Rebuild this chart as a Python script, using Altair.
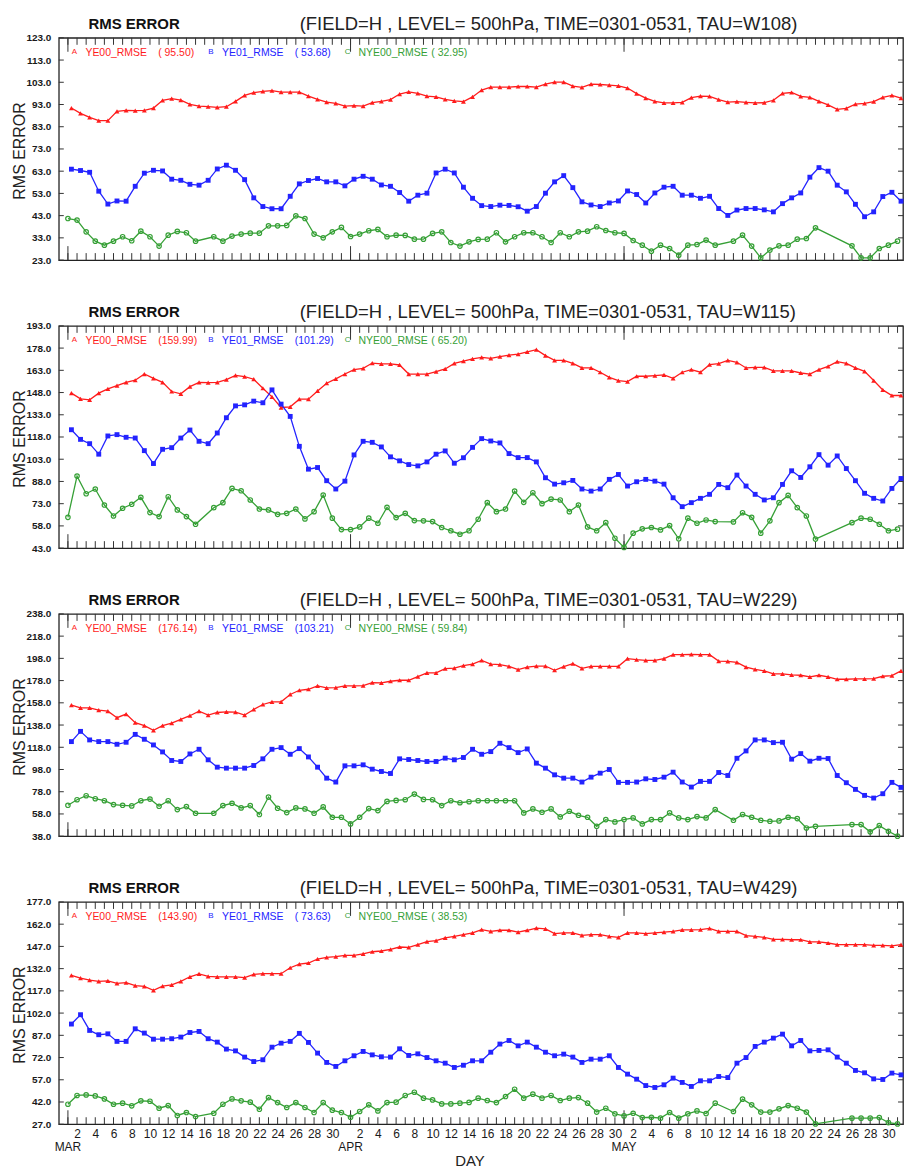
import altair as alt
import pandas as pd

# ---- daily RMS error, 1 Mar .. 31 May (day index 1..92); None = no forecast that day ----
DAYS = list(range(1, 93))

# TAU = W108
p1_ye00 = [91.4, 89.0, 87.2, 85.7, 85.7, 89.9, 90.4, 90.2, 90.4, 91.4,
           94.9, 95.6, 95.0, 93.1, 92.3, 92.0, 91.7, 92.0, 94.4, 97.1,
           98.3, 98.9, 99.2, 98.6, 98.6, 98.6, 96.8, 95.3, 94.1, 93.5,
           92.3, 92.5, 92.3, 93.8, 94.4, 95.2, 97.7, 98.7, 98.0, 96.8,
           96.4, 95.3, 94.6, 94.3, 96.4, 99.5, 100.8, 100.8, 100.8, 101.1,
           101.1, 100.8, 102.2, 103.1, 103.1, 101.3, 100.7, 102.2, 102.0, 101.7,
           101.4, 100.4, 97.9, 95.9, 94.4, 93.7, 93.7, 94.0, 96.1, 96.8,
           96.7, 95.2, 94.1, 94.3, 94.0, 93.7, 93.8, 94.9, 98.0, 98.4,
           96.7, 96.2, 94.4, 92.8, 90.8, 91.3, 93.2, 93.5, 94.3, 96.2,
           97.1, 95.9]
p1_ye01 = [63.9, 63.3, 62.5, 54.0, 48.2, 49.6, 49.5, 56.2, 62.1, 63.4,
           63.1, 59.4, 58.9, 57.1, 56.7, 58.9, 64.0, 65.7, 63.4, 59.2,
           51.0, 47.1, 46.1, 46.1, 51.7, 57.3, 58.8, 59.7, 58.2, 58.2,
           56.4, 59.4, 60.7, 59.4, 56.8, 56.2, 53.4, 49.5, 52.2, 53.1,
           62.2, 63.9, 62.2, 55.8, 50.8, 47.5, 47.1, 47.7, 47.6, 47.0,
           45.0, 47.1, 53.1, 58.2, 61.0, 55.6, 49.2, 47.8, 47.1, 48.7,
           49.6, 54.1, 52.5, 48.7, 53.2, 55.8, 56.2, 52.2, 52.2, 50.8,
           51.7, 46.2, 43.1, 45.5, 46.2, 46.2, 45.6, 44.7, 48.4, 51.0,
           53.2, 60.3, 64.6, 63.0, 56.7, 53.7, 48.1, 42.5, 44.7, 51.6,
           53.5, 49.5]
p1_nye00 = [41.7, 41.0, 35.7, 31.5, 29.7, 31.5, 33.5, 31.7, 36.0, 33.5,
            29.3, 34.2, 35.9, 35.3, 31.5, None, 33.5, 31.5, 33.8, 34.7,
            35.1, 35.1, 38.4, 38.4, 38.6, 42.9, 41.7, 34.7, 33.0, 35.7,
            37.7, 33.6, 34.7, 36.2, 36.8, 33.5, 34.2, 34.1, 32.4, 32.4,
            35.0, 35.7, 30.9, 29.3, 31.2, 32.3, 32.4, 35.3, 31.2, 33.5,
            35.3, 35.3, 33.5, 30.9, 35.3, 33.5, 35.7, 36.0, 38.0, 36.3,
            35.3, 35.0, 31.8, 29.7, 27.0, 29.7, 28.2, 25.2, 29.7, 30.0,
            32.0, 29.7, None, 31.5, 34.2, 29.3, 24.0, 27.5, 29.4, 29.7,
            32.4, 32.7, 37.5, None, None, None, 29.4, 24.0, 24.0, 28.2,
            29.7, 31.5]

# TAU = W115
p2_ye00 = [147.6, 143.7, 143.1, 147.6, 150.5, 152.7, 154.9, 156.3, 160.5, 157.6,
           154.9, 148.7, 147.1, 152.0, 154.9, 154.7, 154.9, 156.7, 159.6, 158.7,
           157.0, 150.9, 145.1, 137.9, 138.4, 143.5, 143.5, 149.1, 154.3, 157.2,
           160.5, 163.5, 164.3, 167.9, 167.3, 167.3, 166.6, 160.5, 160.5, 160.5,
           162.1, 163.9, 167.7, 169.2, 170.7, 171.7, 171.1, 172.2, 173.3, 174.0,
           175.5, 176.9, 172.9, 169.7, 169.7, 167.7, 164.6, 164.6, 161.7, 158.3,
           156.1, 155.4, 159.0, 159.0, 159.4, 159.9, 157.6, 161.7, 163.5, 161.7,
           166.8, 167.5, 169.7, 168.4, 164.6, 165.0, 165.0, 162.6, 162.6, 162.6,
           161.2, 160.5, 163.5, 165.7, 168.8, 167.7, 164.6, 162.3, 156.1, 149.8,
           146.0, 146.0]
p2_ye01 = [122.9, 116.4, 113.5, 106.4, 118.7, 119.6, 117.8, 117.3, 108.8, 100.1,
           109.7, 110.8, 117.3, 122.7, 115.1, 113.5, 120.7, 131.0, 139.0, 139.7,
           142.2, 141.1, 149.8, 140.2, 131.9, 111.7, 96.3, 97.4, 88.5, 82.9,
           88.2, 105.9, 115.1, 114.4, 111.3, 104.6, 101.9, 99.4, 98.5, 101.2,
           106.4, 108.6, 100.3, 104.0, 111.0, 116.9, 115.3, 114.0, 106.8, 104.1,
           104.1, 101.2, 90.5, 86.2, 87.1, 88.7, 82.9, 81.5, 82.9, 89.4,
           92.7, 84.9, 87.8, 89.4, 88.2, 86.2, 77.0, 71.0, 73.7, 76.6,
           79.3, 86.0, 83.8, 92.3, 84.9, 79.3, 75.5, 77.0, 86.0, 95.2,
           90.7, 97.9, 106.1, 99.0, 105.2, 96.7, 88.5, 80.0, 76.6, 74.8,
           83.3, 90.0]
p2_nye00 = [63.8, 91.6, 79.7, 82.9, 72.1, 64.7, 69.9, 72.6, 77.3, 67.0,
            64.3, 77.7, 68.8, 64.3, 59.1, None, 70.3, 73.7, 83.3, 81.7,
            75.5, 69.4, 68.8, 65.8, 66.5, 69.4, 62.7, 67.6, 78.8, 63.2,
            55.5, 55.5, 57.3, 63.2, 59.8, 70.5, 63.6, 66.5, 61.6, 61.4,
            60.9, 56.9, 54.7, 52.4, 54.7, 62.5, 73.7, 67.6, 69.4, 81.5,
            73.9, 80.4, 73.0, 76.1, 75.5, 67.6, 72.1, 57.3, 54.7, 60.2,
            49.7, 43.5, 53.1, 56.0, 56.9, 55.3, 58.2, 49.3, 63.2, 59.8,
            62.0, 60.9, None, 60.7, 66.9, 63.8, 53.1, 61.4, 73.7, 78.6,
            70.3, 64.7, 49.1, None, None, None, 60.2, 63.2, 62.5, 59.1,
            54.7, 55.8]

# TAU = W229
p3_ye00 = [155.9, 153.5, 153.5, 151.4, 150.5, 144.6, 147.9, 140.1, 137.4, 133.2,
           137.4, 139.8, 143.1, 146.4, 150.5, 147.0, 149.3, 149.9, 149.6, 147.0,
           152.0, 156.5, 158.9, 158.9, 165.5, 169.3, 170.2, 173.2, 171.4, 171.7,
           173.2, 173.2, 173.5, 176.2, 175.9, 177.4, 178.3, 178.3, 181.6, 184.9,
           184.9, 188.7, 189.3, 191.4, 192.9, 196.2, 192.9, 192.3, 190.8, 187.9,
           190.2, 191.1, 191.1, 187.3, 190.5, 193.2, 189.0, 190.8, 190.8, 190.8,
           190.8, 197.7, 196.8, 196.2, 196.2, 197.7, 201.3, 201.3, 201.6, 201.3,
           201.3, 195.6, 195.3, 194.4, 190.2, 188.1, 186.7, 184.0, 184.0, 183.1,
           182.8, 181.3, 182.8, 181.3, 179.2, 179.2, 179.5, 179.5, 179.8, 181.9,
           182.5, 186.7]
p3_ye01 = [123.1, 132.3, 124.6, 123.1, 123.1, 120.7, 122.5, 129.6, 125.2, 120.1,
           113.8, 106.1, 105.2, 112.0, 116.2, 106.7, 100.1, 99.2, 99.2, 99.2,
           101.6, 107.6, 116.2, 117.7, 111.7, 116.8, 109.3, 100.1, 90.2, 86.7,
           101.3, 101.3, 102.2, 98.3, 96.2, 94.4, 107.6, 107.0, 106.1, 105.2,
           105.2, 108.2, 106.7, 108.8, 116.2, 111.7, 114.1, 121.6, 117.7, 113.2,
           116.5, 103.7, 99.2, 93.2, 90.2, 90.2, 86.7, 91.1, 94.7, 98.0,
           86.4, 86.4, 86.7, 89.6, 89.0, 91.1, 95.6, 86.7, 82.2, 87.3,
           87.3, 95.3, 92.6, 108.1, 114.7, 124.6, 124.6, 122.2, 122.5, 107.3,
           112.3, 105.5, 108.1, 107.9, 92.6, 86.1, 80.1, 74.7, 72.3, 76.2,
           86.4, 81.9]
p3_nye00 = [65.8, 70.8, 74.4, 71.7, 69.9, 66.4, 65.8, 65.2, 69.9, 71.4,
            64.9, 69.9, 61.9, 64.6, 58.6, None, 58.6, 65.5, 67.6, 63.4,
            65.5, 57.5, 73.2, 63.1, 59.2, 63.4, 62.5, 58.6, 64.3, 55.0,
            55.0, 49.0, 55.0, 62.8, 61.0, 69.3, 70.2, 70.8, 75.9, 71.1,
            70.8, 65.5, 69.9, 68.1, 69.0, 69.9, 69.9, 69.9, 69.9, 69.9,
            58.9, 62.5, 59.5, 62.5, 55.3, 60.4, 56.8, 55.0, 46.9, 52.9,
            50.8, 52.9, 54.4, 49.0, 52.9, 52.9, 58.9, 54.4, 52.9, 55.6,
            54.4, 61.9, None, 52.3, 57.5, 55.0, 52.3, 51.4, 51.7, 55.0,
            53.8, 45.4, 46.9, None, None, None, 48.4, 48.4, 41.9, 47.5,
            42.4, 38.0]

# TAU = W429
p4_ye00 = [127.5, 125.6, 124.3, 123.4, 123.8, 122.0, 122.5, 120.5, 120.0, 117.4,
           120.2, 121.1, 123.4, 126.5, 128.4, 126.8, 126.5, 126.5, 126.5, 125.9,
           128.1, 128.6, 128.6, 128.6, 132.6, 135.1, 135.8, 138.5, 139.6, 140.1,
           141.0, 141.0, 141.9, 143.4, 143.9, 145.0, 146.6, 146.4, 148.2, 150.2,
           150.9, 152.7, 153.8, 154.9, 156.1, 158.3, 157.2, 157.9, 157.9, 156.7,
           157.9, 159.4, 158.8, 155.6, 156.1, 156.1, 154.5, 154.9, 154.9, 153.8,
           153.1, 156.1, 156.1, 155.6, 156.1, 156.7, 157.2, 158.1, 158.1, 158.3,
           159.2, 157.2, 157.2, 157.2, 154.3, 153.8, 153.1, 151.8, 151.8, 151.5,
           151.5, 150.0, 150.0, 149.3, 148.2, 148.2, 148.2, 148.2, 147.7, 147.7,
           147.3, 148.2]
p4_ye01 = [94.6, 100.9, 90.3, 87.4, 88.0, 82.9, 82.9, 91.4, 88.5, 84.4,
           84.4, 84.7, 85.8, 88.9, 89.6, 84.7, 82.4, 77.7, 76.5, 72.3,
           69.3, 70.5, 79.0, 81.7, 82.9, 88.3, 82.2, 75.0, 68.7, 66.0,
           69.8, 73.2, 76.1, 73.8, 72.5, 72.3, 77.9, 73.4, 74.5, 72.0,
           69.8, 68.2, 65.3, 66.8, 69.8, 69.8, 75.6, 81.1, 83.5, 79.9,
           82.4, 79.0, 75.6, 73.2, 74.3, 72.3, 68.7, 70.9, 70.9, 73.2,
           65.3, 60.8, 57.4, 53.1, 51.8, 53.6, 58.1, 55.2, 52.5, 56.3,
           56.3, 59.2, 58.5, 68.2, 72.0, 79.5, 82.4, 85.1, 87.8, 79.9,
           83.5, 76.5, 76.8, 77.2, 72.3, 68.2, 63.3, 61.7, 57.6, 57.2,
           61.5, 60.3]
p4_nye00 = [40.5, 46.4, 46.8, 46.1, 44.1, 40.5, 41.2, 39.4, 42.8, 42.5,
            37.8, 39.6, 32.9, 34.9, 32.2, None, 34.4, 40.5, 44.1, 42.8,
            41.9, 37.1, 45.0, 41.6, 38.3, 41.6, 38.3, 34.9, 41.6, 36.5,
            34.9, 31.7, 35.6, 40.1, 36.0, 41.6, 41.9, 46.4, 48.6, 44.6,
            43.4, 40.7, 40.7, 41.2, 41.7, 44.6, 43.0, 41.6, 45.7, 50.6,
            44.6, 47.3, 44.6, 46.4, 43.0, 44.6, 45.0, 41.2, 35.2, 37.8,
            34.0, 32.6, 34.4, 31.5, 31.7, 31.1, 34.9, 31.1, 34.0, 36.0,
            34.2, 41.2, None, 35.6, 43.9, 40.1, 35.2, 35.2, 37.4, 39.6,
            37.8, 35.2, 27.2, None, None, None, 31.1, 31.1, 31.1, 31.5,
            28.1, 27.2]

# period means shown in each panel's key
p1_means = [95.50, 53.68, 32.95]
p2_means = [159.99, 101.29, 65.20]
p3_means = [176.14, 103.21, 59.84]
p4_means = [143.90, 73.63, 38.53]

# y-axis ranges (min, max, step) and forecast labels
p1_range = (23.0, 123.0, 10.0)
p2_range = (43.0, 193.0, 15.0)
p3_range = (38.0, 238.0, 20.0)
p4_range = (27.0, 177.0, 15.0)
TAUS = ["W108", "W115", "W229", "W429"]

SERIES_NAMES = ["YE00_RMSE", "YE01_RMSE", "NYE00_RMSE"]
SERIES_KEYS = ["A", "B", "C"]
MONTH_START = [1, 32, 62]
MONTH_NAMES = ["MAR", "APR", "MAY"]
DAY_LABELS = ([d for d in range(2, 31, 2)] + [31 + d for d in range(2, 31, 2)]
              + [61 + d for d in range(2, 31, 2)])

# ---- styling ----
FONT = "Liberation Sans"
RED, BLUE, GREEN = "#ff1c1c", "#2323ff", "#36a036"
INK = "#1a1a1a"
W, H = 847, 223
X_DOMAIN = [0, 92.6]


def one_row():
    return pd.DataFrame({"k": [0]})


def text_at(text, x, y, size, color, weight="normal", align="left", baseline="middle"):
    return alt.Chart(one_row()).mark_text(
        text=text, font=FONT, fontSize=size, color=color, fontWeight=weight,
        align=align, baseline=baseline,
    ).encode(x=alt.value(x), y=alt.value(y))


def panel(red, blue, green, means, yrange, tau, bottom):
    ymin, ymax, step = yrange
    n = int(round((ymax - ymin) / step))
    yvals = [ymin + i * step for i in range(n + 1)]

    xscale = alt.Scale(domain=X_DOMAIN, nice=False, zero=False)
    yscale = alt.Scale(domain=[ymin, ymax], nice=False, zero=False)

    if bottom:
        xaxis = alt.Axis(
            values=DAY_LABELS,
            labelExpr="'' + (datum.value <= 31 ? datum.value : (datum.value <= 61 ? datum.value - 31 : datum.value - 61))",
            ticks=False, domain=False, grid=False, labelPadding=4,
            labelFont=FONT, labelFontSize=12, labelColor=INK,
            labelOverlap=False, labelFlush=False,
            title="DAY", titleFont=FONT, titleFontSize=15, titleFontWeight="normal",
            titleColor="#222", titleX=412, titleY=29, titleBaseline="top",
        )
    else:
        xaxis = None

    yaxis = alt.Axis(
        values=yvals, format=".1f", ticks=False, domain=False, grid=False,
        labelPadding=8, labelFont=FONT, labelFontSize=10, labelFontWeight="bold",
        labelColor=INK, labelOverlap=False, labelFlush=False,
        title="RMS ERROR", titleFont=FONT, titleFontSize=16, titleFontWeight="normal",
        titleColor="#222", titleAngle=270, titleX=-34, titleY=113,
        titleAlign="center", titleBaseline="alphabetic",
    )

    X = alt.X("day:Q", scale=xscale, axis=xaxis)
    Y = alt.Y("v:Q", scale=yscale, axis=yaxis)

    layers = []

    # inward tick marks on all four sides of the frame
    days_df = pd.DataFrame({"day": DAYS})
    major_df = pd.DataFrame({"day": MONTH_START})
    ytick_df = pd.DataFrame({"v": yvals})
    tick_style = dict(color="#333", strokeWidth=1)
    layers += [
        alt.Chart(days_df).mark_rule(**tick_style).encode(x=X, y=alt.value(0), y2=alt.value(7)),
        alt.Chart(major_df).mark_rule(**tick_style).encode(x=X, y=alt.value(0), y2=alt.value(14)),
        alt.Chart(days_df).mark_rule(**tick_style).encode(x=X, y=alt.value(H - 7), y2=alt.value(H)),
        alt.Chart(major_df).mark_rule(**tick_style).encode(x=X, y=alt.value(H - 14), y2=alt.value(H)),
        alt.Chart(ytick_df).mark_rule(**tick_style).encode(y=Y, x=alt.value(0), x2=alt.value(5)),
        alt.Chart(ytick_df).mark_rule(**tick_style).encode(y=Y, x=alt.value(W - 5), x2=alt.value(W)),
    ]

    # the three error curves
    specs = [
        (red, RED, "triangle-up", True, 3.5, 24),
        (blue, BLUE, "square", True, 3.5, 24),
        (green, GREEN, "circle", False, 0.0, 20),
    ]
    for vals, color, shape, filled, dx, size in specs:
        df = pd.DataFrame({"day": DAYS, "v": vals}).dropna()
        base = alt.Chart(df).encode(x=X, y=Y)
        layers.append(base.mark_line(color=color, strokeWidth=1.3, xOffset=dx))
        layers.append(base.mark_point(shape=shape, filled=filled, color=color,
                                      size=size, strokeWidth=1.2, opacity=1, xOffset=dx))

    # key along the top of the frame
    key_x = [15.7, 152.7, 289.7]
    colors = [RED, BLUE, GREEN]
    for i in range(3):
        kx = key_x[i]
        layers.append(text_at(SERIES_KEYS[i], kx, 14, 8, colors[i], align="center"))
        layers.append(text_at(SERIES_NAMES[i], kx + 11, 15, 10.5, colors[i]))
        layers.append(text_at("(%6.2f)" % means[i], kx + 84, 15, 10.5, colors[i]))

    # panel heading
    layers.append(text_at("RMS ERROR", 29.7, -9.3, 15, "#111", weight="bold", baseline="alphabetic"))
    layers.append(text_at("(FIELD=H , LEVEL= 500hPa, TIME=0301-0531, TAU=%s)" % tau,
                          241.7, -7.7, 18.5, "#222", baseline="alphabetic"))

    if bottom:
        months = pd.DataFrame({"day": MONTH_START, "m": MONTH_NAMES})
        layers.append(
            alt.Chart(months).mark_text(font=FONT, fontSize=12, color=INK,
                                        align="center", baseline="top")
            .encode(x=X, y=alt.value(H + 18), text="m:N")
        )

    return alt.layer(*layers).properties(width=W, height=H)


panels = [
    panel(p1_ye00, p1_ye01, p1_nye00, p1_means, p1_range, TAUS[0], False),
    panel(p2_ye00, p2_ye01, p2_nye00, p2_means, p2_range, TAUS[1], False),
    panel(p3_ye00, p3_ye01, p3_nye00, p3_means, p3_range, TAUS[2], False),
    panel(p4_ye00, p4_ye01, p4_nye00, p4_means, p4_range, TAUS[3], True),
]

chart = (
    alt.vconcat(*panels, spacing=66, bounds="flush")
    .properties(padding={"left": 11, "top": 12, "right": 0, "bottom": 4}, background="white")
    .configure_view(stroke="#222", strokeWidth=1.3)
)

chart.save("out.html", embed_options={"renderer": "svg", "actions": False})
